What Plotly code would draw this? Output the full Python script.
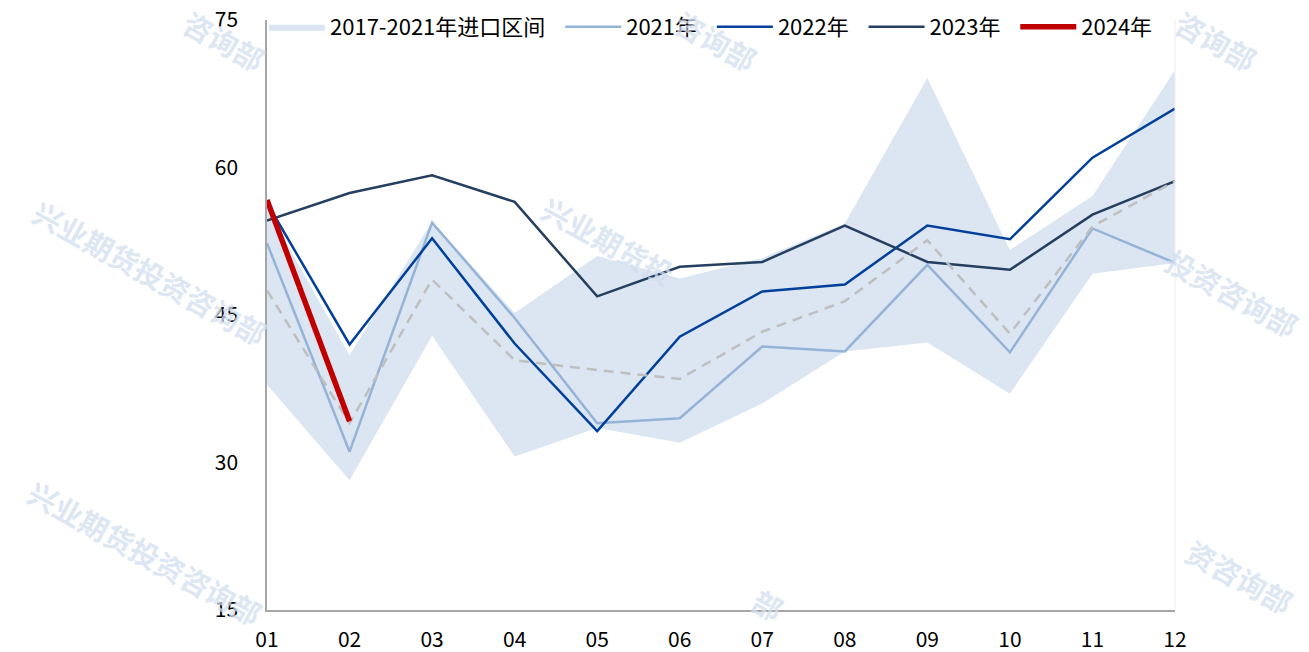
import plotly.graph_objects as go

months = ["01", "02", "03", "04", "05", "06", "07", "08", "09", "10", "11", "12"]
band_low = [37.9, 28.2, 42.9, 30.6, 33.5, 32.0, 36.0, 41.3, 42.2, 37.0, 49.2, 50.3]
band_high = [55.8, 40.9, 54.5, 45.2, 51.0, 48.7, 50.8, 54.3, 69.1, 51.6, 57.1, 69.9]
y2021 = [52.3, 31.1, 54.4, 44.7, 34.0, 34.5, 41.8, 41.3, 50.1, 41.2, 53.8, 50.3]
y2022 = [56.4, 42.0, 52.8, 42.1, 33.2, 42.8, 47.4, 48.1, 54.1, 52.7, 61.0, 66.0]
y2023 = [54.6, 57.4, 59.2, 56.5, 46.9, 49.9, 50.4, 54.1, 50.4, 49.6, 55.2, 58.6]
y2024 = [56.7, 34.2]
avg_2017_2021 = [47.5, 34.0, 48.6, 40.4, 39.4, 38.5, 43.3, 46.4, 52.6, 43.1, 54.0, 58.6]
y_ticks = [15, 30, 45, 60, 75]

FONT = "Noto Sans CJK SC"
PAD = "\u00a0\u00a0"

fig = go.Figure()
fig.add_trace(go.Scatter(
    x=months + months[::-1], y=band_high + band_low[::-1],
    fill="toself", fillcolor="#dce6f2", line=dict(width=0),
    mode="lines", name="2017-2021年进口区间" + PAD, hoverinfo="skip"))
fig.add_trace(go.Scatter(x=months, y=y2021, mode="lines", name="2021年" + PAD,
                         line=dict(color="#95b3d7", width=2.5)))
fig.add_trace(go.Scatter(x=months, y=y2022, mode="lines", name="2022年" + PAD,
                         line=dict(color="#00409a", width=2.5)))
fig.add_trace(go.Scatter(x=months, y=y2023, mode="lines", name="2023年" + PAD,
                         line=dict(color="#243f60", width=2.5)))
fig.add_trace(go.Scatter(x=months, y=avg_2017_2021, mode="lines", name="均值",
                         showlegend=False,
                         line=dict(color="#bfbfbf", width=2.5, dash="10px,7px")))
fig.add_trace(go.Scatter(x=months[:len(y2024)], y=y2024, mode="lines", name="2024年",
                         line=dict(color="#c00000", width=5.5)))

W, H = 1309, 652
L, R, T, B = 267, 134, 20, 42

wm = "兴业期货投资咨询部"
wm_color = "rgba(210,222,240,0.75)"
watermarks = [
    ("咨询部", 224, 40), ("咨询部", 716, 40), ("咨询部", 1216, 40),
    (wm, 150, 272), ("兴业期货投", 608, 240), ("投资咨询部", 1232, 292),
    (wm, 145, 552), ("资咨询部", 1240, 576), ("部", 768, 604),
]
pw, ph = W - L - R, H - T - B
annotations = []
for txt, px, py in watermarks:
    annotations.append(dict(
        text="<b>" + txt + "</b>", x=(px - L) / pw, y=(H - B - py) / ph,
        xref="paper", yref="paper", xanchor="center", yanchor="middle",
        showarrow=False, textangle=29,
        font=dict(family=FONT, size=29, color=wm_color)))

fig.update_layout(
    width=W, height=H,
    margin=dict(l=L, r=R, t=T, b=B, autoexpand=False),
    paper_bgcolor="white", plot_bgcolor="rgba(0,0,0,0)",
    font=dict(family=FONT, size=22, color="#000000"),
    showlegend=True,
    legend=dict(orientation="h", xref="container", yref="container",
                x=264 / W, xanchor="left", y=1 - 6 / H, yanchor="top",
                font=dict(family=FONT, size=22, color="#000000"),
                itemwidth=56, bgcolor="rgba(0,0,0,0)", traceorder="normal",
                itemclick=False),
    annotations=annotations,
    shapes=[dict(type="line", xref="paper", yref="paper", x0=1, x1=1, y0=0, y1=1,
                 line=dict(color="#eeeeee", width=1))],
)
fig.update_xaxes(type="category", range=[0, 11], showgrid=False, zeroline=False,
                 showline=True, linecolor="#a6a6a6", linewidth=1.5,
                 ticks="", ticklabelstandoff=10,
                 tickfont=dict(family=FONT, size=21, color="#000000"))
fig.update_yaxes(range=[15, 75], tickvals=y_ticks, showgrid=False, zeroline=False,
                 showline=True, linecolor="#a6a6a6", linewidth=1.5,
                 ticks="", ticklabelstandoff=23,
                 tickfont=dict(family=FONT, size=21, color="#000000"))

fig.write_html("out.html", config={"displayModeBar": False},
               post_script="document.body.style.margin='0';document.body.style.overflow='hidden';")
